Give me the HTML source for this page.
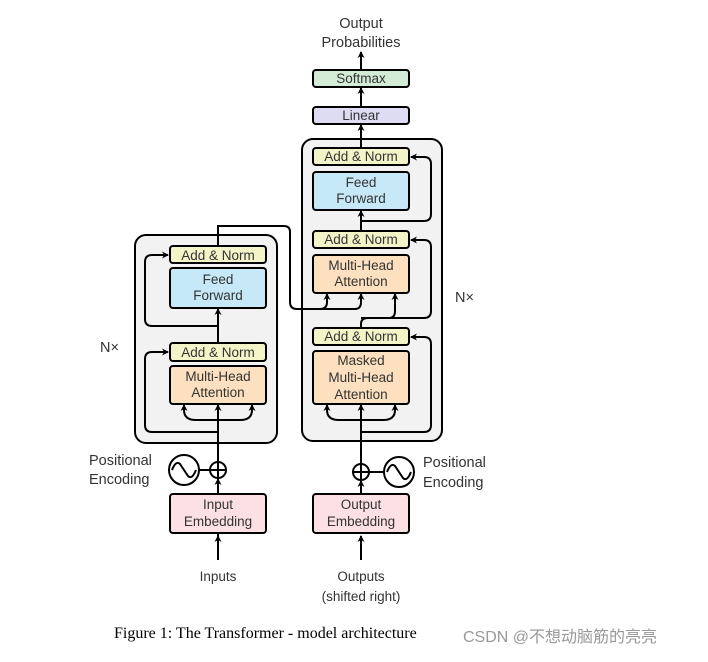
<!DOCTYPE html>
<html><head><meta charset="utf-8"><style>
body{margin:0;background:#fff;}
svg text{font-family:"Liberation Sans",sans-serif;fill:#333;}
</style></head><body>
<svg width="708" height="657" viewBox="0 0 708 657" xmlns="http://www.w3.org/2000/svg">
<defs>
<marker id="a" markerWidth="8" markerHeight="8" refX="6" refY="4" orient="auto" markerUnits="userSpaceOnUse">
<path d="M0,0.5 L7,4 L0,7.5 L2,4 Z" fill="#000"/></marker>
</defs>
<g stroke="#000" stroke-width="2">
<!-- outer boxes -->
<rect x="135" y="235" width="142" height="208" rx="11" fill="#f2f2f2"/>
<rect x="302" y="139" width="140" height="302" rx="11" fill="#f2f2f2"/>
</g>
<g fill="none" stroke="#000" stroke-width="2">
<!-- encoder connections -->
<path d="M218,533 V560" /><path d="M218,560 V536" marker-end="url(#a)"/>
<path d="M218,494 V479" marker-end="url(#a)"/>
<path d="M218,462 V366"/>
<path d="M218,420 H196 Q184,420 184,410 V405" marker-end="url(#a)"/>
<path d="M218,420 H240 Q252,420 252,410 V405" marker-end="url(#a)"/>
<path d="M218,420 V405" marker-end="url(#a)"/>
<path d="M218,432 H152 Q145,432 145,425 V359 Q145,352 152,352 H168" marker-end="url(#a)"/>
<path d="M218,343 V309" marker-end="url(#a)"/>
<path d="M218,326 H152 Q145,326 145,319 V262 Q145,255 152,255 H168" marker-end="url(#a)"/>
<path d="M218,246 V226 H284 Q290,226 290,232 V302 Q290,309 297,309 H355 Q361,309 361,302 V294" marker-end="url(#a)"/>
<path d="M320,309 Q327,309 327,302 V294" marker-end="url(#a)"/>
<!-- decoder connections -->
<path d="M361,560 V536" marker-end="url(#a)"/>
<path d="M361,494 V481" marker-end="url(#a)"/>
<path d="M361,464 V404"/>
<path d="M361,420 H339 Q327,420 327,410 V405" marker-end="url(#a)"/>
<path d="M361,420 H383 Q395,420 395,410 V405" marker-end="url(#a)"/>
<path d="M361,420 V405" marker-end="url(#a)"/>
<path d="M361,432 H424 Q431,432 431,425 V344 Q431,337 424,337 H411" marker-end="url(#a)"/>
<path d="M361,328 V324 Q361,318 368,318 H424"/>
<path d="M389,318 Q395,318 395,311 V294" marker-end="url(#a)"/>
<path d="M361,318 H424 Q431,318 431,311 V247 Q431,240 424,240 H411" marker-end="url(#a)"/>
<path d="M361,231 V211" marker-end="url(#a)"/>
<path d="M361,221 H424 Q431,221 431,214 V164 Q431,157 424,157 H411" marker-end="url(#a)"/>
<path d="M361,148 V125" marker-end="url(#a)"/>
<path d="M361,107 V88" marker-end="url(#a)"/>
<path d="M361,69 V52" marker-end="url(#a)"/>
<!-- pos enc -->
<circle cx="218" cy="470" r="8" fill="#fff"/><path d="M210,470 H226 M218,462 V478"/>
<path d="M199,470 H210"/>
<circle cx="184" cy="470" r="15" fill="#fff"/>
<path d="M172,470 Q176,460 180,464 Q184,470 188,476 Q192,480 196,470"/>
<circle cx="361" cy="472" r="8" fill="#fff"/><path d="M353,472 H369 M361,464 V480"/>
<path d="M369,472 H384"/>
<circle cx="399" cy="472" r="15" fill="#fff"/>
<path d="M387,472 Q391,462 395,466 Q399,472 403,478 Q407,482 411,472"/>
</g>
<g stroke="#000" stroke-width="2">
<rect x="170" y="246" width="96" height="17" rx="3" fill="#f3f5c8"/>
<rect x="170" y="268" width="96" height="40" rx="3" fill="#c7e8f7"/>
<rect x="170" y="343" width="96" height="18" rx="3" fill="#f3f5c8"/>
<rect x="170" y="366" width="96" height="38" rx="3" fill="#fde0bf"/>
<rect x="170" y="494" width="96" height="39" rx="3" fill="#fce0e3"/>
<rect x="313" y="70" width="96" height="17" rx="3" fill="#d2ecd6"/>
<rect x="313" y="107" width="96" height="17" rx="3" fill="#dddcf2"/>
<rect x="313" y="148" width="96" height="17" rx="3" fill="#f3f5c8"/>
<rect x="313" y="172" width="96" height="38" rx="3" fill="#c7e8f7"/>
<rect x="313" y="231" width="96" height="17" rx="3" fill="#f3f5c8"/>
<rect x="313" y="255" width="96" height="38" rx="3" fill="#fde0bf"/>
<rect x="313" y="328" width="96" height="17" rx="3" fill="#f3f5c8"/>
<rect x="313" y="351" width="96" height="53" rx="3" fill="#fde0bf"/>
<rect x="313" y="494" width="96" height="39" rx="3" fill="#fce0e3"/>
</g>
<g font-size="13.5" text-anchor="middle">
<text x="218" y="260">Add &amp; Norm</text>
<text x="218" y="284">Feed</text><text x="218" y="300">Forward</text>
<text x="218" y="357">Add &amp; Norm</text>
<text x="218" y="381">Multi-Head</text><text x="218" y="397">Attention</text>
<text x="218" y="509">Input</text><text x="218" y="526">Embedding</text>
<text x="218" y="581">Inputs</text>
<text x="361" y="83">Softmax</text>
<text x="361" y="120">Linear</text>
<text x="361" y="161">Add &amp; Norm</text>
<text x="361" y="187">Feed</text><text x="361" y="203">Forward</text>
<text x="361" y="244">Add &amp; Norm</text>
<text x="361" y="270">Multi-Head</text><text x="361" y="286">Attention</text>
<text x="361" y="341">Add &amp; Norm</text>
<text x="361" y="365">Masked</text><text x="361" y="382">Multi-Head</text><text x="361" y="399">Attention</text>
<text x="361" y="509">Output</text><text x="361" y="526">Embedding</text>
<text x="361" y="581">Outputs</text><text x="361" y="601">(shifted right)</text>
<text x="361" y="28" font-size="14.5">Output</text><text x="361" y="47" font-size="14.5">Probabilities</text>
</g>
<g font-size="14.5">
<text x="89" y="465">Positional</text><text x="89" y="484">Encoding</text>
<text x="423" y="467">Positional</text><text x="423" y="487">Encoding</text>
<text x="100" y="352">N×</text>
<text x="455" y="302">N×</text>
</g>
<text x="114" y="638" style="font-family:'Liberation Serif',serif;fill:#000" font-size="16">Figure 1: The Transformer - model architecture</text>
<text x="463" y="642" style="font-family:'Liberation Sans','Noto Sans CJK SC',sans-serif;fill:#999" font-size="16">CSDN @不想动脑筋的亮亮</text>
</svg>
</body></html>
